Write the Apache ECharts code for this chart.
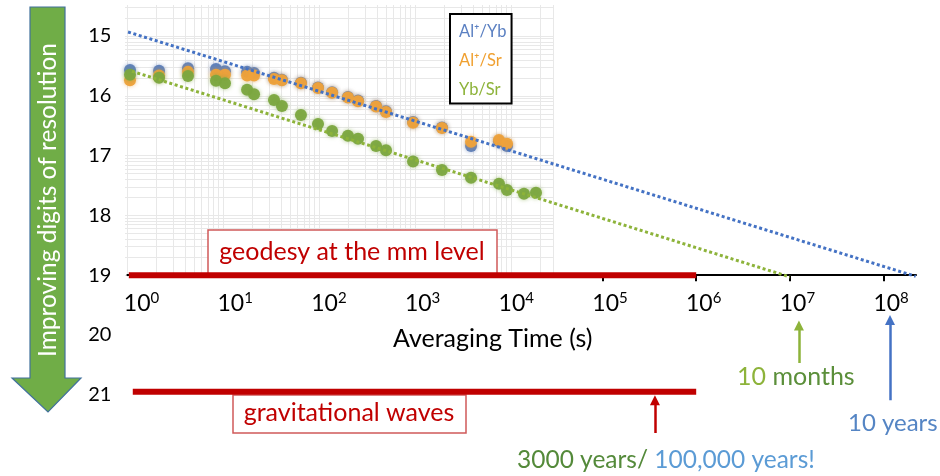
<!DOCTYPE html>
<html><head><meta charset="utf-8">
<script src="https://cdn.jsdelivr.net/npm/echarts@6/dist/echarts.min.js"></script>
<style>html,body{margin:0;padding:0;background:#fff}#c{width:940px;height:476px}</style>
</head><body><div id="c"></div>
<script>
// ---- data ----
const tauSeconds = [0.906,1.85,3.77,7.50,9.35,16.1,19.1,31.2,37.9,60.5,92.0,130,192,246,383,489,951,1936,3954,7852,9572,14520,19500];
const alYbDigits = [15.57,15.58,15.54,15.55,15.59,15.60,15.62,15.70,15.73,15.78,15.86,15.94,16.02,16.08,16.17,16.26,16.44,16.53,16.84,16.76,16.84];
const alSrDigits = [15.74,15.66,15.60,15.65,15.65,15.66,15.66,15.72,15.74,15.79,15.87,15.95,16.03,16.09,16.18,16.27,16.45,16.54,16.77,16.74,16.80];
const ybSrDigits = [15.65,15.70,15.67,15.75,15.79,15.90,15.975,16.07,16.17,16.32,16.47,16.59,16.67,16.72,16.84,16.91,17.10,17.24,17.37,17.47,17.575,17.64,17.62];
const fitAlYb = [[0.863,14.933],[2.2e8,19.02]];
const fitYbSr = [[0.95,15.59],[1.0e7,19.03]];
const geodesyBar = [[0.88,19],[1e6,19]];
const gwBar = [[0.97,20.95],[1e6,20.95]];
const arrowTau = [3.63e5, 1.25e7, 1.17e8];
const arrowFrom = [21.64, 20.47, 21.09];
const arrowTo = [21.09, 19.84, 19.75];
const xTickLabels = [1,10,100,1e3,1e4,1e5,1e6,1e7,1e8];
const xTickMarks = [1e5,1e6,1e7,1e8];
const yTickLabels = [15,16,17,18,19,20,21];
const seriesNames = ['Al⁺/Yb','Al⁺/Sr','Yb/Sr'];

// background (original plot) log grid values
const bgX = [];
for (let n = 0; n <= 4; n++) for (let k = 1; k <= 9; k++) bgX.push(k * Math.pow(10, n));
bgX.push(27380);
const bgY = [];
for (let n = 19; n >= 15; n--) for (let k = 1; k <= 9; k++) bgY.push(k * Math.pow(10, -n));
bgY.push(1e-14);

const pair = (xs, ys) => ys.map((v, i) => [xs[i], v]);
const colBlue = '#4472C4', colGreen = '#8DB33A', colRed = '#C00000';
const arrowColors = [colRed, colGreen, colBlue];

const chart = echarts.init(document.getElementById('c'));
const FONT = 'Lato';
chart.setOption({
  animation: false,
  textStyle: {fontFamily: FONT},
  grid: [
    {left: 127.4, right: 24, top: 6.1, bottom: 3.5},
    {left: 125, top: 5, width: 428, height: 272}
  ],
  xAxis: [
    {type: 'log', gridIndex: 0, min: 0.85, max: 2.218e8, offset: -197.3,
     axisLine: {onZero: false, lineStyle: {color: '#000', width: 2}},
     axisTick: {show: true, length: 6, customValues: xTickMarks, lineStyle: {color: '#000', width: 2}},
     splitLine: {show: false}, minorTick: {show: false},
     axisLabel: {customValues: xTickLabels, margin: 15, padding: [0,0,0,15],
       formatter: v => '{b|10}{s|' + Math.round(Math.log10(v)) + '}',
       rich: {b: {fontSize: 23, lineHeight: 27, color: '#000', fontFamily: FONT},
              s: {fontSize: 15, lineHeight: 15, verticalAlign: 'top', color: '#000', fontFamily: FONT}}},
     name: 'Averaging Time (s)', nameLocation: 'middle', nameGap: 51,
     nameTextStyle: {fontSize: 25, color: '#000', padding: [0,58,0,0]}},
    {type: 'log', gridIndex: 1, min: 0.953, max: 27380,
     axisLine: {show: false}, axisLabel: {show: false},
     axisTick: {show: false, customValues: bgX},
     splitLine: {show: true, lineStyle: {color: '#e8e8e8', width: 1}}}
  ],
  yAxis: [
    {type: 'value', gridIndex: 0, inverse: true, min: 14.5, max: 22.3,
     axisLine: {show: false}, axisTick: {show: false}, splitLine: {show: false},
     axisLabel: {customValues: yTickLabels, margin: 16, fontSize: 20, color: '#000'}},
    {type: 'log', gridIndex: 1, min: Math.pow(10, -19.03), max: Math.pow(10, -14.482),
     axisLine: {show: false}, axisLabel: {show: false},
     axisTick: {show: false, customValues: bgY},
     splitLine: {show: true, lineStyle: {color: '#e8e8e8', width: 1}}}
  ],
  legend: {
    data: [
      {name: seriesNames[0], textStyle: {color: '#5B80C2'}},
      {name: seriesNames[1], textStyle: {color: '#F0A030'}},
      {name: seriesNames[2], textStyle: {color: '#8DB33A'}}
    ],
    orient: 'vertical', left: 450, top: 14, icon: 'none', itemWidth: 0, itemHeight: 18, itemGap: 11.5,
    padding: [9, 5, 5, 4], borderColor: '#000', borderWidth: 2, backgroundColor: '#fff',
    textStyle: {fontSize: 16.5, fontFamily: FONT}, selectedMode: false
  },
  series: [
    {name: seriesNames[0], type: 'scatter', data: pair(tauSeconds, alYbDigits), symbolSize: 12, z: 2,
     itemStyle: {color: '#5B7DB9', opacity: 0.95, shadowBlur: 4, shadowColor: 'rgba(91,125,185,0.6)'}},
    {name: seriesNames[1], type: 'scatter', data: pair(tauSeconds, alSrDigits), symbolSize: 12, z: 2,
     itemStyle: {color: '#EFA23A', opacity: 0.95, shadowBlur: 4, shadowColor: 'rgba(239,162,58,0.6)'}},
    {name: seriesNames[2], type: 'scatter', data: pair(tauSeconds, ybSrDigits), symbolSize: 12, z: 2,
     itemStyle: {color: '#7BA63F', opacity: 0.95, shadowBlur: 4, shadowColor: 'rgba(123,166,63,0.6)'}},
    {name: 'fit Al/Yb', type: 'line', data: fitAlYb, symbol: 'none', z: 3, silent: true,
     lineStyle: {color: colBlue, width: 3, type: [3, 2.6], cap: 'butt'}},
    {name: 'fit Yb/Sr', type: 'line', data: fitYbSr, symbol: 'none', z: 3, silent: true,
     lineStyle: {color: colGreen, width: 3, type: [3, 2.6], cap: 'butt'}},
    {name: 'geodesy', type: 'line', data: geodesyBar, symbol: 'none', z: 3, silent: true,
     lineStyle: {color: colRed, width: 6}},
    {name: 'gw', type: 'line', data: gwBar, symbol: 'none', z: 3, silent: true,
     lineStyle: {color: colRed, width: 6}},
    {name: 'arrows', type: 'lines', coordinateSystem: 'cartesian2d', z: 3, silent: true,
     symbol: ['none', 'triangle'], symbolSize: 10,
     data: arrowTau.map((t, i) => ({coords: [[t, arrowFrom[i]], [t, arrowTo[i]]],
       lineStyle: {color: arrowColors[i], width: 2.5, opacity: 1}})),
     lineStyle: {width: 2.5, opacity: 1}}
  ],
  graphic: [
    {type: 'polygon', z: 10, shape: {points: [[30,7],[65,7],[65,378],[81,378],[48,412],[12,378],[30,378]]},
     style: {fill: '#70AD47', stroke: '#41719C', lineWidth: 1.2}},
    {type: 'text', z: 11, x: 48, y: 200, rotation: Math.PI / 2,
     style: {text: 'Improving digits of resolution', fill: '#fff', font: '24.5px ' + FONT, align: 'center', verticalAlign: 'middle'}},
    {type: 'rect', z: 1, shape: {x: 208, y: 230, width: 289, height: 44},
     style: {fill: '#fff', stroke: '#D05A5A', lineWidth: 1.5}},
    {type: 'text', z: 1, x: 352, y: 252,
     style: {text: 'geodesy at the mm level', fill: colRed, font: '25px ' + FONT, align: 'center', verticalAlign: 'middle'}},
    {type: 'rect', z: 1, shape: {x: 233, y: 395, width: 233, height: 38},
     style: {fill: '#fff', stroke: '#D05A5A', lineWidth: 1.5}},
    {type: 'text', z: 1, x: 349, y: 413,
     style: {text: 'gravitational waves', fill: colRed, font: '25px ' + FONT, align: 'center', verticalAlign: 'middle'}},
    {type: 'text', z: 5, x: 737, y: 377,
     style: {text: '{a|10 }{b|months}', verticalAlign: 'middle',
       rich: {a: {fill: '#8DB33A', fontSize: 25, fontFamily: FONT}, b: {fill: '#5B8F3A', fontSize: 25, fontFamily: FONT}}}},
    {type: 'text', z: 5, x: 848, y: 423,
     style: {text: '10 years', fill: '#5585C4', font: '24px ' + FONT, verticalAlign: 'middle'}},
    {type: 'text', z: 5, x: 517, y: 460,
     style: {text: '{a|3000 years/ }{b|100,000 years!}', verticalAlign: 'middle',
       rich: {a: {fill: '#548A3A', fontSize: 24.5, fontFamily: FONT}, b: {fill: '#5B9BD5', fontSize: 24.5, fontFamily: FONT}}}}
  ]
});
</script>
</body></html>
